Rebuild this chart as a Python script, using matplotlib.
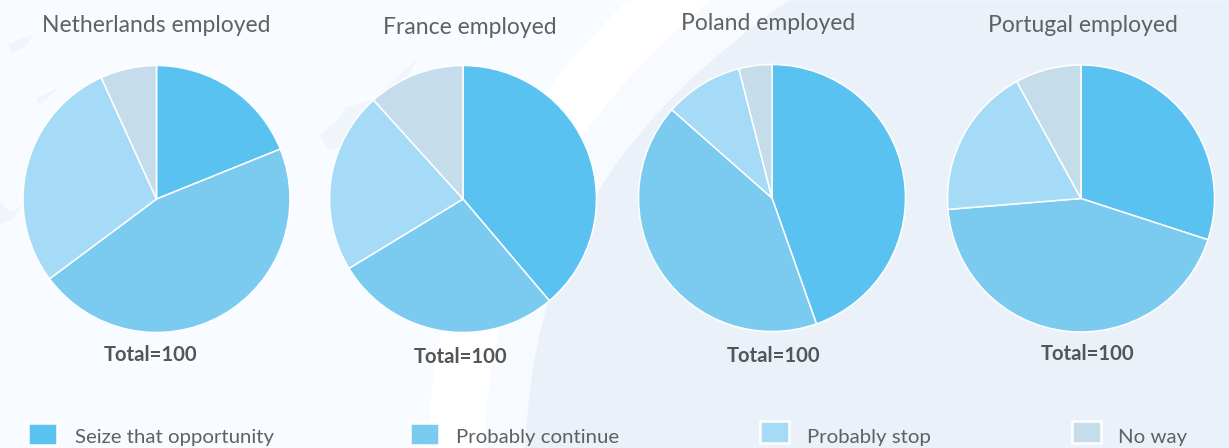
import numpy as np
import matplotlib
matplotlib.use('Agg')
import matplotlib.pyplot as plt
from matplotlib.patches import Rectangle

plt.rcParams['font.family'] = ['Lato', 'DejaVu Sans']

countries = ['Netherlands', 'France', 'Poland', 'Portugal']
answers = ['Seize that opportunity', 'Probably continue', 'Probably stop', 'No way']
netherlands = [18.9, 45.9, 28.4, 6.8]
france = [38.8, 27.5, 22, 11.7]
poland = [44.6, 41.9, 9.5, 4]
portugal = [30, 43.7, 18.3, 8]
totals = [100, 100, 100, 100]

colors = ['#59C2F1', '#7BCBF1', '#A5DBF6', '#C5DDEB']
text_color = '#5F6163'
W, H = 1229, 448

fig = plt.figure(figsize=(W / 100, H / 100), dpi=100, facecolor='#F8FBFF')

# background layer in pixel coordinates
bg = fig.add_axes([0, 0, 1, 1])
bg.set_xlim(0, W)
bg.set_ylim(H, 0)
bg.axis('off')


def curve(py, px):
    y = np.linspace(0, H, 80)
    return np.polyval(np.polyfit(py, px, 3), y), y


# white band, paler band and the dark right part
x1, y1 = curve([0, 90, 332, 448], [627, 547, 440, 427])
x2, y2 = curve([0, 135, 332, 448], [710, 583, 498, 483])
x3, y3 = curve([0, 40, 195, 300, 448], [790, 733, 597, 547, 525])
bg.fill_betweenx(y1, x1, W, color='white', lw=0)
bg.fill_betweenx(y2, x2, W, color='#F7FAFE', lw=0)
bg.fill_betweenx(y3, x3, W, color='#EBF1F9', lw=0)

# faint land shapes behind the pies
land = '#F0F5FA'
bg.fill([320, 340, 345, 372, 418, 405, 375, 352, 345, 328], [135, 118, 108, 100, 58, 80, 100, 128, 146, 150], color=land, lw=0)
bg.fill([9, 22, 32, 26, 12], [45, 38, 36, 46, 54], color=land, lw=0)
bg.fill([36, 50, 60, 46, 40], [98, 92, 86, 100, 104], color=land, lw=0)
bg.fill([0, 10, 22, 12, 0], [202, 212, 206, 220, 224], color=land, lw=0)

pies = [netherlands, france, poland, portugal]
centers = [(156.5, 199), (463, 199), (772, 198), (1081, 198.5)]
radius = 133.5
title_pos = [(156, 26), (470, 27), (768, 24), (1083, 25)]
total_pos = [(151, 355), (461, 357), (774, 356), (1088, 354)]

for i, vals in enumerate(pies):
    cx, cy = centers[i]
    ax = fig.add_axes([(cx - radius - 2) / W, 1 - (cy + radius + 2) / H,
                       (2 * radius + 4) / W, (2 * radius + 4) / H])
    ax.pie(vals, colors=colors, startangle=90, counterclock=False, radius=1,
           wedgeprops={'edgecolor': 'white', 'linewidth': 1.1})
    ax.set_xlim(-1.015, 1.015)
    ax.set_ylim(-1.015, 1.015)
    bg.text(title_pos[i][0], title_pos[i][1], countries[i] + ' employed', color=text_color,
            fontsize=16.5, ha='center', va='center')
    bg.text(total_pos[i][0], total_pos[i][1], 'Total=%d' % totals[i], color='#545557',
            fontsize=14.6, fontweight='bold', ha='center', va='center')

# legend
box_x = [28, 409.5, 760, 1072]
label_x = [75, 456, 807, 1118]
box_y = [423, 423, 421, 421]
for i, name in enumerate(answers):
    bg.add_patch(Rectangle((box_x[i], box_y[i]), 29, 22.5, facecolor=colors[i],
                           edgecolor='white', linewidth=1.8))
    bg.text(label_x[i], 437, name, color=text_color, fontsize=14.7, ha='left', va='center')

fig.savefig('out.png', dpi=100, facecolor=fig.get_facecolor())
